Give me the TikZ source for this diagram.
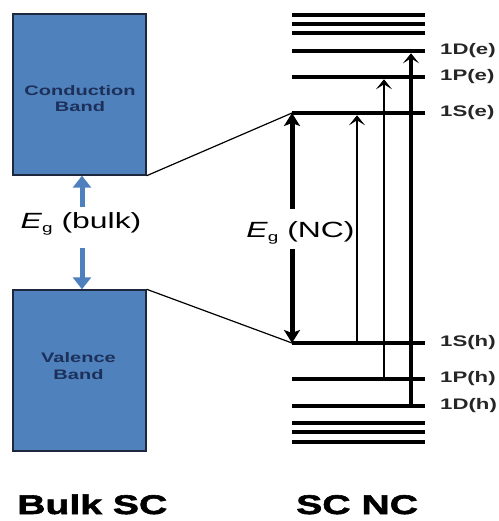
\documentclass[tikz,border=0pt]{standalone}
\usepackage{fontspec}
\setmainfont{Liberation Sans}
\newfontfamily\wfont[FakeStretch=1.45]{Liberation Sans}
\newfontfamily\hfont[FakeStretch=1.45,BoldFeatures={FakeBold=2.2}]{Liberation Sans}
\usetikzlibrary{arrows.meta}
\definecolor{bandblue}{RGB}{79,129,189}
\definecolor{bandedge}{RGB}{30,40,60}
\definecolor{navy}{RGB}{28,48,90}
\definecolor{arrowblue}{RGB}{78,128,190}
\newcommand\EgapSym{\textit{E}\raisebox{-0.22em}{\fontsize{13}{13}\selectfont g}}
\begin{document}
\begin{tikzpicture}[x=1pt,y=-1pt,
  box/.style={draw=bandedge, line width=1.4pt, fill=bandblue, minimum width=133pt, minimum height=161pt, inner sep=0pt},
  boxtext/.style={text=navy, align=center, inner sep=0pt, font=\wfont\bfseries\fontsize{13.8}{16.5}\selectfont},
  level/.style={line width=4.6pt},
  lvlabel/.style={anchor=west, inner sep=0pt, text=black!85, font=\wfont\bfseries\fontsize{15.3}{15}\selectfont},
  gaptext/.style={font=\wfont\fontsize{22}{26}\selectfont, anchor=base, inner sep=0pt},
  titletext/.style={font=\hfont\bfseries\fontsize{27}{30}\selectfont, anchor=base west, inner sep=0pt},
  bluearrow/.style={draw=arrowblue, line width=5pt, -{Triangle[width=18pt,length=12pt]}},
  thinarrow/.style={-{Stealth[width=16pt,length=10pt,inset=5pt]}},
  thickarrow/.style={line width=5pt, {Stealth[width=16pt,length=13pt,inset=3pt]}-{Stealth[width=16pt,length=13pt,inset=3pt]}},
  link/.style={line width=1.2pt}]
\useasboundingbox (0,0) rectangle (498,521);

% bulk bands
\node[box] (cb) at (79.5,94.5) {};
\node[box] (vb) at (79.5,370.5) {};
\node[boxtext] (cbt) at (80,98.5) {Conduction\\Band};
\node[boxtext] (vbt) at (78.5,366) {Valence\\Band};

% level end points
\foreach \nm/\yy in {t1/15,t2/24,t3/33,De/51,Pe/77,Se/113,Sh/343,Ph/379,Dh/406,b1/423,b2/432,b3/442}{
  \coordinate (\nm-w) at (292,\yy);
  \coordinate (\nm-e) at (425,\yy);
}

% links from bulk to NC
\draw[link] (cb.south east) -- (Se-w);
\draw[link] (vb.north east) -- (Sh-w);

% levels
\foreach \nm in {t1,t2,t3,De,Pe,Se,Sh,Ph,Dh,b1,b2,b3}{
  \draw[level] (\nm-w) -- (\nm-e);
}

% bulk gap
\coordinate (bu) at (82,207);
\coordinate (bd) at (82,248);
\draw[bluearrow] (bu) -- (bu |- cb.south);
\draw[bluearrow] (bd) -- (bd |- vb.north);
\node[gaptext] (egb) at (81,228) {\EgapSym\ (bulk)};

% NC gap
\draw[thickarrow] (Se-w) -- (Sh-w);
\node[gaptext, fill=white, text height=26pt, text depth=10pt, inner ysep=2pt, inner xsep=1pt] (egn) at (300.5,237) {\EgapSym\ (NC)};

% transitions
\coordinate (a1s) at (357,343); \coordinate (a1e) at (357,115.3);
\coordinate (a2s) at (384,379); \coordinate (a2e) at (384,79.3);
\coordinate (a3s) at (411,406); \coordinate (a3e) at (411,53.3);
\draw[thinarrow, line width=2.2pt] (a1s) -- (a1e);
\draw[thinarrow, line width=2.7pt] (a2s) -- (a2e);
\draw[thinarrow, line width=3.2pt] (a3s) -- (a3e);

% level labels
\node[lvlabel] (lDe) at (440,51) {1D(e)};
\node[lvlabel] (lPe) at (440,77) {1P(e)};
\node[lvlabel] (lSe) at (440,113) {1S(e)};
\node[lvlabel] (lSh) at (440,343) {1S(h)};
\node[lvlabel] (lPh) at (440,379) {1P(h)};
\node[lvlabel] (lDh) at (440,406) {1D(h)};

% titles
\node[titletext] (tb) at (17,514) {Bulk SC};
\node[titletext] (tn) at (296,514) {SC NC};
\end{tikzpicture}
\end{document}
